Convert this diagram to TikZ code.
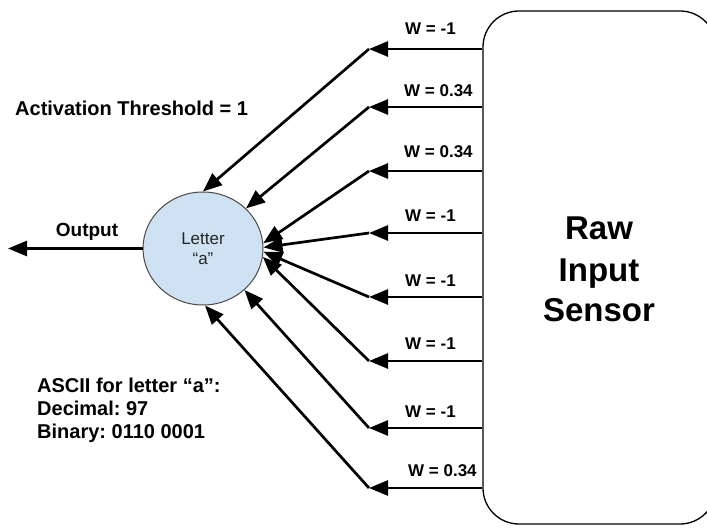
\documentclass[tikz,border=0pt]{standalone}
\usepackage{fontspec}
\setmainfont{Liberation Sans}
\frenchspacing
\usetikzlibrary{arrows.meta,shapes.geometric}
\definecolor{nfill}{HTML}{CFE2F3}
\definecolor{nline}{HTML}{4A4A4A}
\begin{document}
\begin{tikzpicture}[x=1pt,y=-1pt,
  conn/.style={line width=2.7pt,-{Triangle[length=19pt,width=15pt]}},
  wlab/.style={font=\bfseries\fontsize{17}{20}\selectfont, anchor=base west, inner sep=0},
  txt/.style={font=\bfseries\fontsize{20}{23}\selectfont, anchor=base west, inner sep=0},
  bigtxt/.style={font=\bfseries\fontsize{33}{41}\selectfont, anchor=base, inner sep=0}]
\useasboundingbox (0,0) rectangle (707,529);
\clip (0,0) rectangle (707,529);
% sensor box
\node[draw, line width=1.3pt, rounded corners=36pt, minimum width=233pt, minimum height=513pt, inner sep=0] (sensor) at (599.5,267.5) {};
\node[bigtxt] (s1) at (599,240) {Raw};
\node[bigtxt] (s2) at (599,282) {Input};
\node[bigtxt] (s3) at (599,322) {Sensor};
% neuron
\node[ellipse, draw=nline, line width=1pt, fill=nfill, minimum width=120pt, minimum height=113pt, inner sep=0,
  align=center, font=\fontsize{17}{20}\selectfont, text=black!85] (neuron) at (203,248.5) {Letter\\“a”};
% tips
\coordinate (t1) at (369,49);
\coordinate (t2) at (369,107);
\coordinate (t3) at (369,171);
\coordinate (t4) at (369,233);
\coordinate (t5) at (369,297);
\coordinate (t6) at (369,361);
\coordinate (t7) at (369,428);
\coordinate (t8) at (369,488);
\foreach \i in {1,...,8}{\draw[conn] (sensor.west |- t\i) -- (t\i);}
\draw[conn] (t1) -- (neuron.90);
\draw[conn] (t2) -- (neuron.43);
\draw[conn] (t3) -- (neuron.5);
\draw[conn] (t4) -- (neuron.1);
\draw[conn] (t5) -- (neuron.-3);
\draw[conn] (t6) -- (neuron.-8);
\draw[conn] (t7) -- (neuron.-45);
\draw[conn] (t8) -- (neuron.-88);
% weight labels
\node[wlab] (w1) at (405,35) {W = -1};
\node[wlab] (w2) at (404,97) {W = 0.34};
\node[wlab] (w3) at (404,158) {W = 0.34};
\node[wlab] (w4) at (405,222) {W = -1};
\node[wlab] (w5) at (405,287) {W = -1};
\node[wlab] (w6) at (405,350) {W = -1};
\node[wlab] (w7) at (405,417) {W = -1};
\node[wlab] (w8) at (408,476) {W = 0.34};
% output
\coordinate (out) at (8,248.5);
\draw[conn] (neuron.west) -- (out);
\node[txt, anchor=base, font=\bfseries\fontsize{19}{22}\selectfont] (outlab) at (87,237) {Output};
% texts
\node[txt] (thr) at (15,116) {Activation Threshold = 1};
\node[txt] (a1) at (37,392) {ASCII for letter “a”:};
\node[txt] (a2) at (37,415) {Decimal: 97};
\node[txt] (a3) at (37,438) {Binary: 0110 0001};
\end{tikzpicture}
\end{document}
